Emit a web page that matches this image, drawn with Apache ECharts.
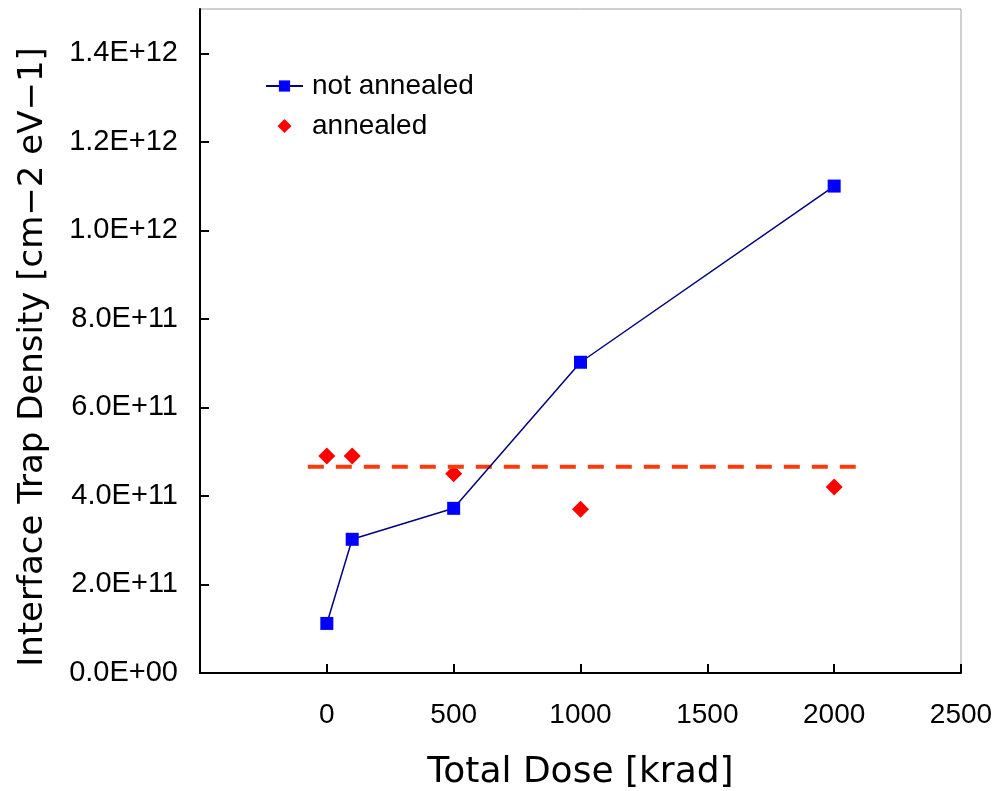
<!DOCTYPE html>
<html>
<head>
<meta charset="utf-8">
<script src="https://cdn.jsdelivr.net/npm/echarts@6/dist/echarts.min.js"></script>
<style>
  html, body { margin: 0; padding: 0; background: #fff; }
  #chart { width: 996px; height: 791px; }
</style>
</head>
<body>
<div id="chart"></div>
<script>
// data
const doseNotAnnealed = [0, 100, 500, 1000, 2000]
const densityNotAnnealed = [1.12e11, 3.02e11, 3.72e11, 7.02e11, 1.10e12]
const doseAnnealed = [0, 100, 500, 1000, 2000]
const densityAnnealed = [4.9e11, 4.9e11, 4.5e11, 3.7e11, 4.2e11]
const fitDose = [-75, 2085]
const fitDensity = [4.66e11, 4.66e11]

const zip = (xs, ys) => xs.map((x, i) => [x, ys[i]])

const sciLabel = v => {
  if (v === 0) return '0.0E+00'
  const e = Math.floor(Math.log10(v) + 1e-9)
  const m = v / Math.pow(10, e)
  return m.toFixed(1) + 'E+' + String(e).padStart(2, '0')
}

const chart = echarts.init(document.getElementById('chart'))

chart.setOption({
  animation: false,
  grid: {
    left: 200,
    right: 35,
    top: 9,
    bottom: 118,
    outerBoundsMode: 'none',
    show: true,
    borderColor: '#a0a0a0',
    borderWidth: 1
  },
  legend: {
    left: 260,
    top: 67,
    orient: 'vertical',
    itemWidth: 37,
    itemHeight: 14,
    itemGap: 12,
    data: [
      { name: 'not annealed' },
      { name: 'annealed', icon: 'path://M0,-1 L1,0 L0,1 L-1,0 Z' }
    ],
    textStyle: {
      fontFamily: 'Liberation Sans',
      fontSize: 28,
      color: '#000',
      padding: [0, 0, 0, 4]
    }
  },
  xAxis: {
    type: 'value',
    min: -500,
    max: 2500,
    interval: 500,
    name: 'Total Dose [krad]',
    nameLocation: 'middle',
    nameGap: 82,
    nameTextStyle: { fontFamily: 'DejaVu Sans', fontSize: 36, color: '#000' },
    axisLine: { show: true, onZero: false, lineStyle: { color: '#000', width: 2 } },
    axisTick: { show: true, inside: true, length: 9, lineStyle: { color: '#000', width: 2 } },
    axisLabel: {
      margin: 28,
      fontFamily: 'Liberation Sans',
      fontSize: 28,
      color: '#000',
      formatter: v => (v < 0 ? '' : String(v))
    },
    splitLine: { show: false }
  },
  yAxis: {
    type: 'value',
    min: 0,
    max: 1.5e12,
    interval: 2e11,
    name: 'Interface Trap Density [cm\u22122 eV\u22121]',
    nameLocation: 'middle',
    nameGap: 150,
    nameTextStyle: {
      fontFamily: 'DejaVu Sans',
      fontSize: 34,
      color: '#000',
      padding: [0, 32, 0, 0]
    },
    axisLine: { show: true, onZero: false, lineStyle: { color: '#000', width: 2 } },
    axisTick: { show: true, inside: true, length: 9, lineStyle: { color: '#000', width: 2 } },
    axisLabel: {
      margin: 22,
      showMaxLabel: false,
      fontFamily: 'Liberation Sans',
      fontSize: 29,
      color: '#000',
      formatter: v => (v > 1.45e12 ? '' : sciLabel(v))
    },
    splitLine: { show: false }
  },
  series: [
    {
      name: 'annealed',
      type: 'scatter',
      data: zip(doseAnnealed, densityAnnealed),
      symbol: 'diamond',
      symbolSize: 17,
      itemStyle: { color: '#ff0000', opacity: 1 },
      z: 2
    },
    {
      name: 'fit',
      type: 'line',
      data: zip(fitDose, fitDensity),
      symbol: 'none',
      lineStyle: { color: '#ff3a0a', width: 4, type: [16, 12] },
      z: 3
    },
    {
      name: 'not annealed',
      type: 'line',
      data: zip(doseNotAnnealed, densityNotAnnealed),
      symbol: 'rect',
      symbolSize: 13,
      itemStyle: { color: '#0000ff' },
      lineStyle: { color: '#000080', width: 1.5 },
      z: 4
    }
  ]
})
</script>
</body>
</html>
